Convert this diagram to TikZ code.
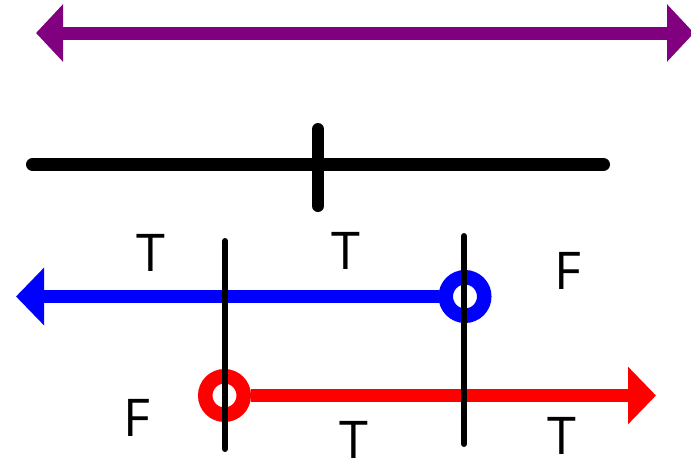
\documentclass[tikz,border=0pt]{standalone}
\usepackage{fontspec}
\setmainfont{Open Sans}
\usetikzlibrary{arrows.meta}
\definecolor{purp}{RGB}{128,0,128}
\begin{document}
\begin{tikzpicture}[x=1pt,y=-1pt,
  bigline/.style={line width=13pt},
  tipstyle/.style={-{Triangle[length=28pt,width=56pt]}},
  ring/.style={circle,draw=#1,line width=14.5pt,minimum size=38.5pt,inner sep=0pt,fill=white},
  vline/.style={line width=6pt,line cap=round},
  lab/.style={font=\fontsize{52}{52}\selectfont,inner sep=0pt}]
\useasboundingbox (0,0) rectangle (691,463);
% purple double arrow
\coordinate (pl) at (36,33);
\coordinate (pr) at (694,33);
\draw[bigline,purp,{Triangle[length=27pt,width=56pt]}-{Triangle[length=27pt,width=56pt]}] (pl) -- (pr);
% black number line
\coordinate (bl) at (32.5,164.5);
\coordinate (br) at (603.5,164.5);
\coordinate (tt) at (318,129);
\coordinate (tb) at (318,206);
\draw[bigline,line cap=round] (bl) -- (br);
\draw[line width=12pt,line cap=round] (tt) -- (tb);
% blue
\node[ring=blue] (bc) at (465,296.5) {};
\coordinate (btip) at (16,296.5);
\draw[bigline,blue,tipstyle] (bc.west) -- (btip);
% red
\node[ring=red] (rc) at (224.5,395.5) {};
\coordinate (rtip) at (656,395.5);
\draw[bigline,red,tipstyle] (rc.east) -- (rtip);
% vertical lines
\coordinate (v1t) at (225,241);
\coordinate (v1b) at (225,449);
\coordinate (v2t) at (464,236);
\coordinate (v2b) at (464,444);
\draw[vline] (v1t) -- (v1b);
\draw[vline] (v2t) -- (v2b);
% labels
\node[lab] (l1) at (151,253) {T};
\node[lab] (l2) at (346,251) {T};
\node[lab] (l3) at (568,271) {F};
\node[lab] (l4) at (137,418) {F};
\node[lab] (l5) at (354,440) {T};
\node[lab] (l6) at (562,436) {T};
\end{tikzpicture}
\end{document}
